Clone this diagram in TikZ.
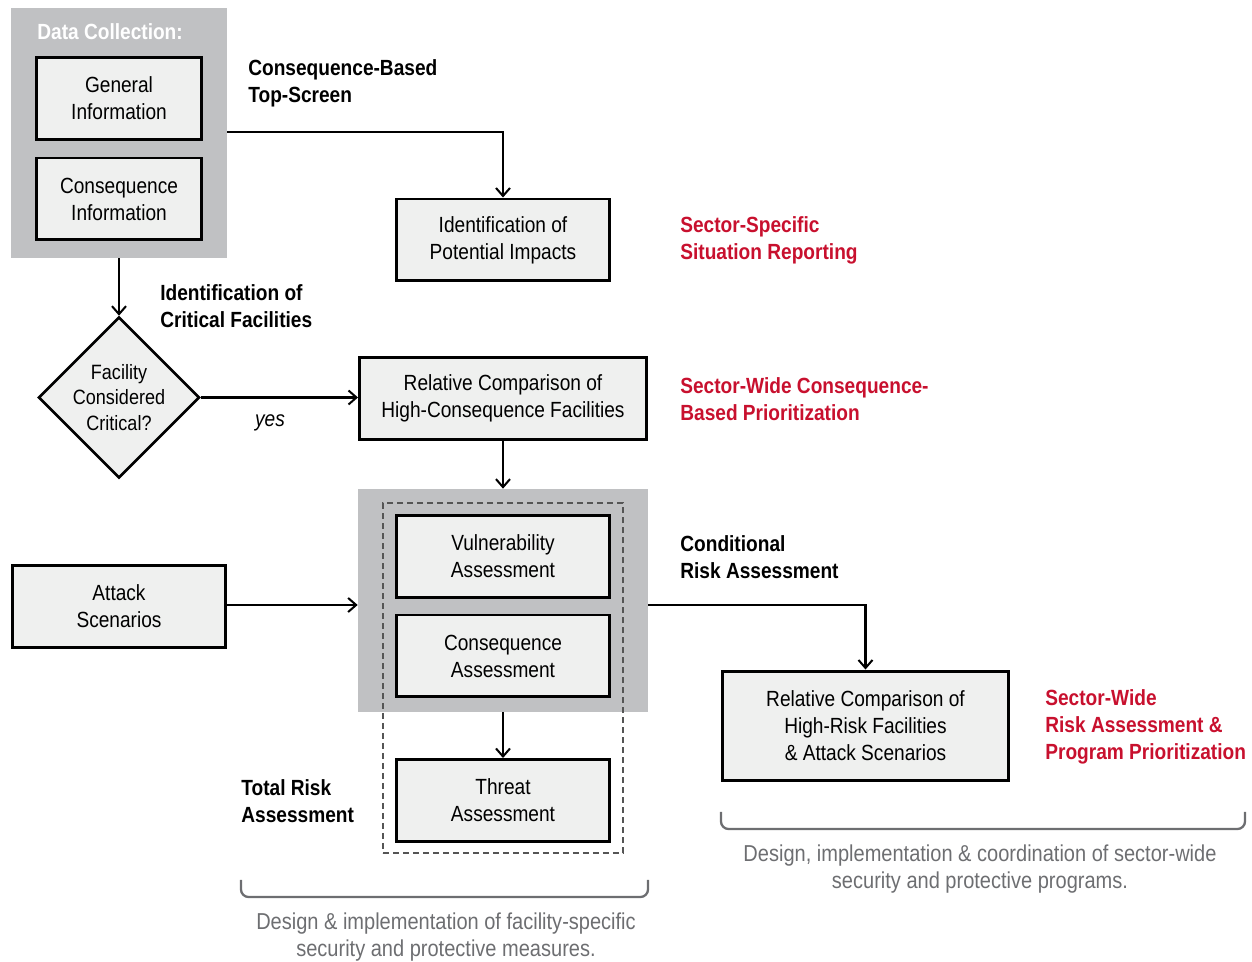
\documentclass[tikz,border=0pt]{standalone}
\usepackage{fontspec}
\setmainfont{Liberation Sans}[FakeStretch=0.87]
\usetikzlibrary{arrows.meta,shapes.geometric}
\definecolor{panelgray}{RGB}{192,193,195}
\definecolor{boxfill}{RGB}{239,240,239}
\definecolor{sectorred}{RGB}{200,16,46}
\definecolor{notegray}{RGB}{109,110,113}
\definecolor{dashgray}{RGB}{85,85,85}
\newcommand{\txt}{\fontsize{12.5}{15.4}\selectfont}

\begin{document}
\begin{tikzpicture}[x=0.02cm, y=-0.02cm, >={Straight Barb[length=1.6mm,width=2.8mm]},
    box/.style={draw, line width=1.7pt, fill=boxfill, minimum width=4.26cm, minimum height=1.64cm, align=center, inner sep=0pt, font=\txt},
    panel/.style={fill=panelgray, inner sep=0pt},
    conn/.style={line width=1.15pt},
    steplabel/.style={anchor=west, align=left, inner sep=0pt, font=\txt\bfseries},
    sectorlabel/.style={steplabel, text=sectorred},
    note/.style={align=center, inner sep=0pt, text=notegray, font=\fontsize{13.1}{15.4}\selectfont},
    bracket/.style={notegray, line width=1.3pt, rounded corners=1.5mm}]
    \useasboundingbox (0,0) rectangle (1252,962);
    % grey panels first
    \node[panel, minimum width=4.32cm, minimum height=5cm] (datac) at (119,133) {};
    \node[panel, minimum width=5.8cm, minimum height=4.46cm] (assess) at (503,600.5) {};
    \node[draw=dashgray, line width=1.1pt, dash pattern=on 1.2mm off 0.8mm, minimum width=4.8cm, minimum height=7cm, inner sep=0pt] (total) at (503,678) {};
    \node[steplabel, text=white] (dctitle) at (37,32) {Data Collection:};
    \node[box, minimum width=3.3cm] (gen) at (119,98.5) {General\\Information};
    \node[box, minimum width=3.3cm] (coninfo) at (119,199) {Consequence\\Information};
    \node[box] (ident) at (503,240) {Identification of\\Potential Impacts};
    \node[draw, diamond, line width=1.5pt, fill=boxfill, minimum width=3.22cm, minimum height=3.22cm, inner sep=0pt, align=center, font=\fontsize{11.8}{14.6}\selectfont] (diam) at (119,397.5) {Facility\\Considered\\Critical?};
    \node[box, minimum width=5.74cm] (relcomp) at (503,398.5) {Relative Comparison of\\High-Consequence Facilities};
    \node[box] (vuln) at (503,556.5) {Vulnerability\\Assessment};
    \node[box] (conassess) at (503,656) {Consequence\\Assessment};
    \node[box] (threat) at (503,800.5) {Threat\\Assessment};
    \node[box] (attack) at (119,606.5) {Attack\\Scenarios};
    \node[box, minimum width=5.72cm, minimum height=2.2cm] (relrisk) at (865.5,726) {Relative Comparison of\\High-Risk Facilities\\\& Attack Scenarios};

    \draw[conn,->] (datac.east |- 0,132) -| (ident.north);
    \draw[conn,->] (datac.south) -- (diam.north);
    \draw[conn,->] (diam.east) -- (relcomp.west |- diam.east) node[pos=0.44, below=6pt, font=\txt\itshape] (yes) {yes};
    \draw[conn,->] (relcomp.south) -- (assess.north);
    \draw[conn,->] (attack.east |- 0,605) -- (assess.west |- 0,605);
    \draw[conn,->] (assess.east |- 0,605) -| (relrisk.north);
    \draw[conn,->] (assess.south) -- (threat.north);

    \node[steplabel] (topscreen) at (248,83.5) {Consequence-Based\\Top-Screen};
    \node[steplabel] (critfac) at (160,306.5) {Identification of\\Critical Facilities};
    \node[steplabel] (condrisk) at (680,557) {Conditional\\Risk Assessment};
    \node[steplabel] (totrisk) at (241,801.5) {Total Risk\\Assessment};
    \node[sectorlabel] (sitrep) at (680,240.5) {Sector-Specific\\Situation Reporting};
    \node[sectorlabel] (conprio) at (680,399.5) {Sector-Wide Consequence-\\Based Prioritization};
    \node[sectorlabel] (progprio) at (1045,726.5) {Sector-Wide\\Risk Assessment \&\\Program Prioritization};

    \draw[bracket] (241,880) -- (241,897) -- (648,897) -- (648,880);
    \draw[bracket] (721,812) -- (721,829) -- (1245,829) -- (1245,812);
    \node[note] (facnote) at (446,937.5) {Design \& implementation of facility-specific\\security and protective measures.};
    \node[note] (secnote) at (980,869) {Design, implementation \& coordination of sector-wide\\security and protective programs.};
\end{tikzpicture}
\end{document}
